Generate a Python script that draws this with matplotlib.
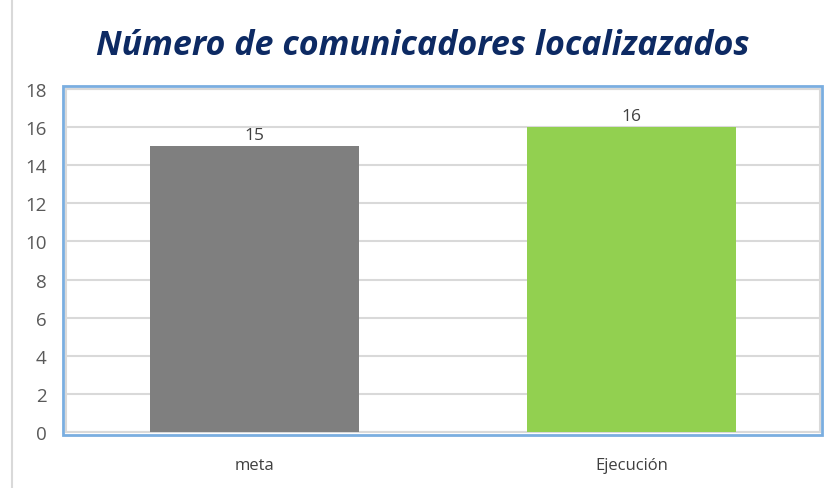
import matplotlib.pyplot as plt
from matplotlib.patches import Rectangle
from matplotlib.lines import Line2D

categories = ['meta', 'Ejecución']
values = [15, 16]
colors = ['#7f7f7f', '#92d050']
yticks = [0, 2, 4, 6, 8, 10, 12, 14, 16, 18]

fig = plt.figure(figsize=(8.24, 4.89), dpi=100)
ax = fig.add_axes([66 / 824, 1 - 433 / 489, 754 / 824, 343 / 489])

x = range(len(categories))
bars = ax.bar(x, values, width=0.555, color=colors, zorder=3)
for b, v in zip(bars, values):
    ax.text(b.get_x() + b.get_width() / 2, v + 0.15, str(v), ha='center', va='bottom',
            fontsize=12.5, color='#404040', family='Open Sans')

ax.set_xlim(-0.5, 1.5)
ax.set_ylim(0, 18)
ax.set_yticks(yticks)
ax.set_xticks(list(x))
ax.set_xticklabels(categories, family='Open Sans', fontsize=12, color='#404040')
ax.set_yticklabels([str(t) for t in yticks], family='Open Sans', fontsize=13.5, color='#595959')
ax.tick_params(length=0)
ax.tick_params(axis='x', pad=18)
ax.tick_params(axis='y', pad=14)
ax.grid(axis='y', color='#d9d9d9', linewidth=1.5, zorder=0)
for s in ax.spines.values():
    s.set_color('#d9d9d9')
    s.set_linewidth(1.5)

# outer blue frame of the plot area
fig.add_artist(Rectangle((63.5 / 824, 1 - 436 / 489), 758 / 824, 349 / 489,
                         transform=fig.transFigure, fill=False, edgecolor='#7aaee0', linewidth=2))
# light grey border on the left of the chart
fig.add_artist(Line2D([12 / 824, 12 / 824], [0, 1], transform=fig.transFigure,
                      color='#d9d9d9', linewidth=1.5))

fig.text(423 / 824, 1 - 46 / 489, 'Número de comunicadores localizazados', ha='center', va='center',
         fontsize=24.5, fontweight='bold', fontstyle='italic', color='#0d2a63', family='Open Sans')

fig.savefig('out.png', dpi=100)
